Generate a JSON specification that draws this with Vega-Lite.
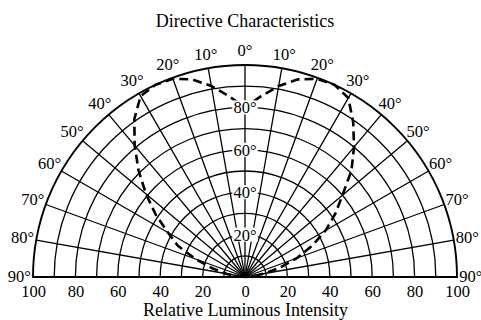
{
  "$schema": "https://vega.github.io/schema/vega-lite/v6.json",
  "width": 424,
  "height": 212,
  "autosize": {"type": "none"},
  "padding": {"left": 33, "top": 65, "right": 24, "bottom": 43},
  "background": "white",
  "config": {"font": "Liberation Serif", "view": {"stroke": null}},
  "title": {
    "text": "Directive Characteristics",
    "font": "Liberation Serif",
    "fontSize": 18,
    "fontWeight": "normal",
    "color": "black",
    "anchor": "middle",
    "frame": "group",
    "offset": 12
  },
  "layer": [
    {
      "data": {"values": [{"r": 10}, {"r": 20}, {"r": 30}, {"r": 40}, {"r": 50}, {"r": 60}, {"r": 70}, {"r": 80}, {"r": 90}, {"r": 100}]},
      "mark": {"type": "arc", "filled": false, "stroke": "black"},
      "encoding": {
        "x": {
          "datum": 0, "type": "quantitative",
          "scale": {"domain": [-100, 100], "nice": false, "zero": false},
          "axis": {
            "values": [-100, -80, -60, -40, -20, 0, 20, 40, 60, 80, 100],
            "labelExpr": "abs(datum.value)",
            "domain": false, "ticks": false, "grid": false,
            "labelFlush": false,
            "labelFont": "Liberation Serif", "labelFontSize": 16.5, "labelColor": "black", "labelPadding": 6,
            "title": "Relative Luminous Intensity",
            "titleFont": "Liberation Serif", "titleFontSize": 18, "titleFontWeight": "normal", "titleColor": "black", "titlePadding": 2
          }
        },
        "y": {"datum": 0, "type": "quantitative", "scale": {"domain": [0, 100], "nice": false}, "axis": null},
        "theta": {"datum": -90, "type": "quantitative", "scale": {"domain": [-90, 90], "range": [-1.5707963, 1.5707963]}},
        "theta2": {"datum": 90},
        "radius": {"field": "r", "type": "quantitative", "stack": null, "scale": {"type": "linear", "domain": [0, 100], "range": [0, 212], "zero": true}},
        "strokeWidth": {"condition": {"test": "datum.r == 100", "value": 1.9}, "value": 1.3}
      }
    },
    {
      "data": {"values": [{"a": -80}, {"a": -70}, {"a": -60}, {"a": -50}, {"a": -40}, {"a": -30}, {"a": -20}, {"a": -10}, {"a": 0}, {"a": 10}, {"a": 20}, {"a": 30}, {"a": 40}, {"a": 50}, {"a": 60}, {"a": 70}, {"a": 80}]},
      "mark": {"type": "arc", "filled": false, "stroke": "black", "strokeWidth": 1.3},
      "encoding": {
        "x": {"datum": 0, "type": "quantitative"},
        "y": {"datum": 0, "type": "quantitative", "axis": null},
        "theta": {"field": "a", "type": "quantitative", "stack": null, "scale": {"domain": [-90, 90], "range": [-1.5707963, 1.5707963]}},
        "theta2": {"field": "a"},
        "radius": {"datum": 100, "type": "quantitative", "scale": {"type": "linear", "domain": [0, 100], "range": [0, 212], "zero": true}},
        "radius2": {"datum": 0}
      }
    },
    {
      "data": {"values": [
        {"a": -90, "i": 0}, {"a": -85, "i": 4}, {"a": -80, "i": 9}, {"a": -75, "i": 16}, {"a": -70, "i": 25},
        {"a": -65, "i": 35}, {"a": -60, "i": 42}, {"a": -55, "i": 51.5}, {"a": -50, "i": 61}, {"a": -45, "i": 71},
        {"a": -40, "i": 81}, {"a": -35, "i": 91}, {"a": -30, "i": 98.5}, {"a": -25, "i": 100}, {"a": -20, "i": 99.5},
        {"a": -15, "i": 96.5}, {"a": -10, "i": 91.5}, {"a": -5, "i": 85.5}, {"a": 0, "i": 80},
        {"a": 5, "i": 85.5}, {"a": 10, "i": 91.5}, {"a": 15, "i": 96.5}, {"a": 20, "i": 99.5}, {"a": 25, "i": 100},
        {"a": 30, "i": 97.5}, {"a": 35, "i": 89}, {"a": 40, "i": 80}, {"a": 45, "i": 71}, {"a": 50, "i": 60},
        {"a": 55, "i": 52}, {"a": 60, "i": 44}, {"a": 65, "i": 35}, {"a": 70, "i": 26}, {"a": 75, "i": 17},
        {"a": 80, "i": 9}, {"a": 85, "i": 4}, {"a": 90, "i": 0}
      ]},
      "transform": [
        {"calculate": "datum.i * sin(datum.a * PI / 180)", "as": "px"},
        {"calculate": "datum.i * cos(datum.a * PI / 180)", "as": "py"}
      ],
      "mark": {"type": "line", "color": "black", "strokeWidth": 2.6, "strokeDash": [9, 5]},
      "encoding": {
        "x": {"field": "px", "type": "quantitative"},
        "y": {"field": "py", "type": "quantitative", "axis": null},
        "order": {"field": "a", "type": "quantitative"}
      }
    },
    {
      "data": {"values": [{"v": 20, "t": "20°"}, {"v": 40, "t": "40°"}, {"v": 60, "t": "60°"}, {"v": 80, "t": "80°"}]},
      "layer": [
        {
          "mark": {"type": "point", "shape": "M-1,-0.55H1V0.55H-1Z", "filled": true, "fill": "white", "fillOpacity": 1, "stroke": null, "size": 650},
          "encoding": {
            "x": {"datum": 0, "type": "quantitative"},
            "y": {"field": "v", "type": "quantitative", "axis": null}
          }
        },
        {
          "mark": {"type": "text", "font": "Liberation Serif", "fontSize": 16.5, "color": "black", "align": "center", "baseline": "middle", "dy": 1},
          "encoding": {
            "x": {"datum": 0, "type": "quantitative"},
            "y": {"field": "v", "type": "quantitative", "axis": null},
            "text": {"field": "t"}
          }
        }
      ]
    },
    {
      "data": {"values": [
        {"a": -90, "t": "90°"}, {"a": -80, "t": "80°"}, {"a": -70, "t": "70°"}, {"a": -60, "t": "60°"}, {"a": -50, "t": "50°"},
        {"a": -40, "t": "40°"}, {"a": -30, "t": "30°"}, {"a": -20, "t": "20°"}, {"a": -10, "t": "10°"}, {"a": 0, "t": "0°"},
        {"a": 10, "t": "10°"}, {"a": 20, "t": "20°"}, {"a": 30, "t": "30°"}, {"a": 40, "t": "40°"}, {"a": 50, "t": "50°"},
        {"a": 60, "t": "60°"}, {"a": 70, "t": "70°"}, {"a": 80, "t": "80°"}, {"a": 90, "t": "90°"}
      ]},
      "mark": {"type": "text", "font": "Liberation Serif", "fontSize": 16.5, "color": "black", "align": "center", "baseline": "middle"},
      "encoding": {
        "x": {"datum": 0, "type": "quantitative"},
        "y": {"datum": 0, "type": "quantitative", "axis": null},
        "theta": {"field": "a", "type": "quantitative", "stack": null, "scale": {"domain": [-90, 90], "range": [-1.5707963, 1.5707963]}},
        "radius": {"datum": 106.5, "type": "quantitative", "scale": {"type": "linear", "domain": [0, 100], "range": [0, 212], "zero": true}},
        "text": {"field": "t"}
      }
    }
  ]
}
